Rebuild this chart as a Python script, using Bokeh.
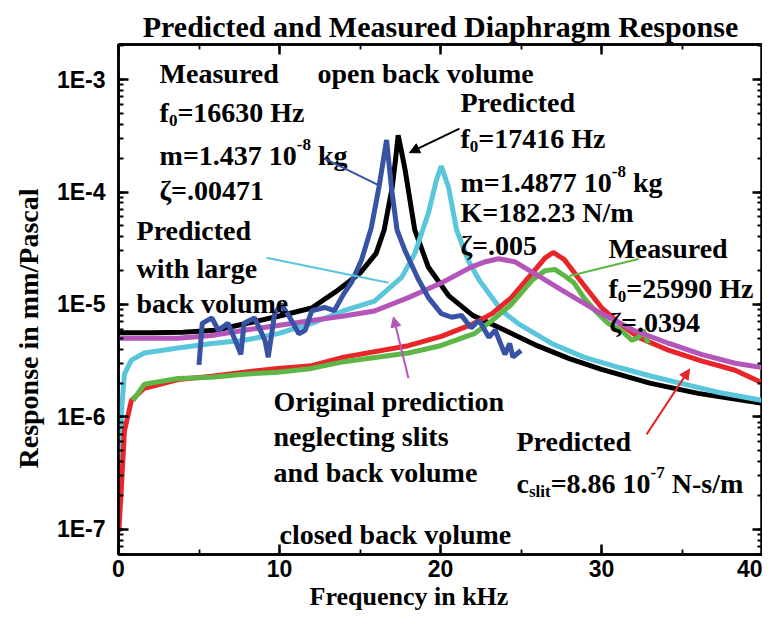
import math
from bokeh.plotting import figure
from bokeh.models import (Label, Arrow, NormalHead, Range1d, LogTicker, SingleIntervalTicker,
                          LinearAxis, LogAxis, CustomJSTickFormatter, Title)
from bokeh.embed import file_html
from bokeh.resources import INLINE

# ---------------- data (frequency in kHz, response in mm/Pascal) ----------------
black_f = [0, 2, 4, 6, 8, 10, 12, 13.5, 15, 16, 16.5, 17, 17.2, 17.37, 17.55, 17.8, 18.1, 18.4,
           19.25, 20.5, 22, 24, 26, 28, 30, 33, 36, 40]
black_r = [5.6e-6, 5.6e-6, 5.65e-6, 5.9e-6, 6.8e-6, 7.9e-6, 9.3e-6, 1.3e-5, 1.9e-5, 2.85e-5, 4.6e-5,
           1.1e-4, 1.9e-4, 3.2e-4, 2.4e-4, 1.58e-4, 8.5e-5, 4.6e-5, 2.14e-5, 1.2e-5, 8.0e-6, 5.9e-6,
           4.3e-6, 3.3e-6, 2.65e-6, 2.0e-6, 1.62e-6, 1.32e-6]

blue_f = [5.0, 5.2, 5.8, 6.2, 6.8, 7.45, 7.6, 7.8, 8.45, 9.1, 9.3, 9.7, 10.1, 10.5, 11.2, 11.6, 12.0,
          12.8, 13.4, 14.0, 14.5, 15.1, 15.7, 16.2, 16.65, 16.95, 17.3, 17.8, 18.6, 19.25, 20.05,
          20.7, 21.3, 21.9, 22.4, 23.0, 23.4, 24.0, 24.3, 24.5, 25.0]
blue_r = [2.9e-6, 6.8e-6, 7.6e-6, 5.9e-6, 6.8e-6, 4.1e-6, 3.6e-6, 6.8e-6, 7.6e-6, 4.8e-6, 3.4e-6,
          8.3e-6, 1.0e-5, 8.3e-6, 5.5e-6, 5.9e-6, 8.8e-6, 9.4e-6, 8.8e-6, 1.25e-5, 1.6e-5, 2.5e-5,
          4.8e-5, 1.15e-4, 2.9e-4, 1.1e-4, 4.6e-5, 3.0e-5, 1.7e-5, 1.15e-5, 8.3e-6, 7.7e-6, 8.0e-6,
          6.2e-6, 7.2e-6, 5.1e-6, 5.9e-6, 3.6e-6, 4.5e-6, 3.4e-6, 3.9e-6]

cyan_f = [0.08, 0.2, 0.37, 0.8, 1.6, 3.7, 5.8, 7.8, 9.9, 12, 14, 15.9, 17.6, 18.4, 19.25, 19.75,
          20.05, 20.5, 21.0, 21.7, 22.4, 23.8, 24.8, 26.9, 28.9, 31.1, 33.1, 35.2, 37.3, 40]
cyan_r = [4.0e-7, 1.2e-6, 2.4e-6, 3.2e-6, 3.7e-6, 4.1e-6, 4.5e-6, 4.8e-6, 5.5e-6, 6.8e-6, 8.8e-6,
          1.07e-5, 1.75e-5, 2.85e-5, 6.5e-5, 1.28e-4, 1.7e-4, 1.1e-4, 4.6e-5, 2.5e-5, 1.65e-5,
          8.8e-6, 6.8e-6, 4.5e-6, 3.4e-6, 2.75e-6, 2.3e-6, 1.95e-6, 1.65e-6, 1.4e-6]

magenta_f = [0, 3.7, 5.8, 7.8, 9.9, 12, 14, 15.9, 18, 20.05, 21.9, 22.8, 23.6, 24.6, 25.8, 27.9,
             30, 32, 34.2, 36.2, 38.3, 40]
magenta_r = [5.0e-6, 5.0e-6, 5.3e-6, 5.9e-6, 6.5e-6, 7.2e-6, 7.9e-6, 8.75e-6, 1.15e-5, 1.55e-5,
             2.15e-5, 2.4e-5, 2.55e-5, 2.4e-5, 1.9e-5, 1.25e-5, 8.3e-6, 5.9e-6, 4.5e-6, 3.6e-6,
             3.0e-6, 2.75e-6]

red_f = [0.02, 0.2, 0.37, 0.8, 1.6, 3.7, 5.8, 7.8, 9.9, 12, 14, 18, 20.05, 22.1, 23.2, 24.4, 25.7,
         26.5, 27.0, 27.7, 28.8, 30, 31.1, 32.3, 34.2, 36.2, 38.3, 40]
red_r = [9.5e-8, 2.7e-7, 7.5e-7, 1.4e-6, 1.8e-6, 2.15e-6, 2.3e-6, 2.5e-6, 2.7e-6, 2.85e-6, 3.4e-6,
         4.3e-6, 5.2e-6, 6.8e-6, 8.3e-6, 1.15e-5, 1.9e-5, 2.6e-5, 2.9e-5, 2.5e-5, 1.55e-5, 9.4e-6,
         6.8e-6, 5.1e-6, 3.9e-6, 3.15e-6, 2.6e-6, 2.0e-6]

green_f = [0.9, 1.6, 3.7, 5.8, 7.8, 9.9, 12, 14, 18, 20, 22.1, 23.2, 24.4, 25.7, 26.5, 27.1, 27.7,
           28.3, 28.9, 29.6, 30.4, 31.2, 31.9, 32.3, 32.6, 32.9]
green_r = [1.4e-6, 1.95e-6, 2.2e-6, 2.25e-6, 2.4e-6, 2.5e-6, 2.7e-6, 3.1e-6, 3.7e-6, 4.3e-6, 5.5e-6,
           7.2e-6, 1.0e-5, 1.65e-5, 2.0e-5, 2.05e-5, 1.8e-5, 1.55e-5, 1.15e-5, 8.8e-6, 6.8e-6,
           5.9e-6, 4.8e-6, 5.1e-6, 5.9e-6, 4.5e-6]

x_ticks_interval = 10

SERIF = "Liberation Serif"
SANS = "Liberation Sans"

# ---------------- figure ----------------
p = figure(frame_width=644, frame_height=510, y_axis_type="log",
           x_range=Range1d(0, 40), y_range=Range1d(5.98e-8, 2.05e-3),
           output_backend="svg", toolbar_location=None,
           min_border_left=117, min_border_right=0, min_border_top=44, min_border_bottom=60)
p.grid.visible = False
p.outline_line_color = "black"
p.outline_line_width = 2.5
p.background_fill_color = "white"
p.border_fill_color = "white"

p.title = Title(text="Predicted and Measured Diaphragm Response", align="center",
                text_font=SERIF, text_font_style="bold", text_font_size="30px",
                text_color="black", standoff=4)

bottom_ax = p.xaxis[0]
left_ax = p.yaxis[0]
bottom_ax.ticker = SingleIntervalTicker(interval=x_ticks_interval, num_minor_ticks=2)
left_ax.ticker = LogTicker(num_minor_ticks=10)
left_ax.formatter = CustomJSTickFormatter(code="return '1E' + Math.round(Math.log(tick)/Math.LN10);")


def style(ax, show_labels, standoff):
    ax.axis_line_width = 2.5
    ax.axis_line_color = "black"
    ax.major_tick_in = 10
    ax.major_tick_out = 0
    ax.minor_tick_in = 5
    ax.minor_tick_out = 0
    ax.major_tick_line_width = 2.5
    ax.minor_tick_line_width = 1.8
    ax.major_tick_line_color = "black"
    ax.minor_tick_line_color = "black"
    ax.major_label_standoff = standoff
    if show_labels:
        ax.major_label_text_font = SANS
        ax.major_label_text_font_style = "bold"
        ax.major_label_text_font_size = "23px"
        ax.major_label_text_color = "black"
    else:
        ax.major_label_text_font_size = "1px"
        ax.major_label_text_alpha = 0


style(bottom_ax, True, 5)
style(left_ax, True, 13)

top_ax = LinearAxis(ticker=SingleIntervalTicker(interval=x_ticks_interval, num_minor_ticks=2),
                    formatter=CustomJSTickFormatter(code="return '.';"))
right_ax = LogAxis(ticker=LogTicker(num_minor_ticks=10),
                   formatter=CustomJSTickFormatter(code="return '.';"))
style(top_ax, False, 0)
style(right_ax, False, 0)
p.add_layout(top_ax, "above")
p.add_layout(right_ax, "right")

p.add_layout(Title(text="Frequency in kHz", align="left", offset=191,
                   text_font=SERIF, text_font_style="bold", text_font_size="26px",
                   text_color="black", standoff=0), "below")
p.add_layout(Title(text="Response in mm/Pascal", align="left", offset=86,
                   text_font=SERIF, text_font_style="bold", text_font_size="28px",
                   text_color="black", standoff=20), "left")

# ---------------- curves ----------------
LW = 5
p.line(black_f, black_r, line_color="#000000", line_width=LW)
p.line(cyan_f, cyan_r, line_color="#5ac6dc", line_width=LW)
p.line(red_f, red_r, line_color="#e8262a", line_width=LW)
p.line(green_f, green_r, line_color="#5db645", line_width=LW)
p.line(magenta_f, magenta_r, line_color="#b455b9", line_width=LW)
p.line(blue_f, blue_r, line_color="#3953a4", line_width=LW)

# ---------------- text helpers ----------------
TB = {' ': 250, '.': 250, '-': 333, '/': 278, '=': 570, 'ζ': 440}
for d in "0123456789":
    TB[d] = 500
TB.update({'A': 722, 'B': 667, 'C': 722, 'D': 722, 'E': 667, 'F': 611, 'G': 778, 'H': 778,
           'I': 389, 'K': 778, 'L': 667, 'M': 944, 'N': 722, 'O': 778, 'P': 611, 'R': 722,
           'S': 556, 'T': 667,
           'a': 500, 'b': 556, 'c': 444, 'd': 556, 'e': 444, 'f': 333, 'g': 500, 'h': 556,
           'i': 278, 'j': 333, 'k': 556, 'l': 278, 'm': 833, 'n': 556, 'o': 500, 'p': 556,
           'q': 556, 'r': 444, 's': 389, 't': 333, 'u': 556, 'v': 500, 'w': 722, 'x': 500,
           'y': 500, 'z': 444})


def tw(s, size):
    return sum(TB.get(ch, 500) for ch in s) * size / 1000.0


FS = 28
SS = 17


def rich(x, y, parts):
    dx = 0.0
    for txt, kind in parts:
        fs = FS if kind == "n" else SS
        dy = {"n": 0, "sub": -8, "sup": 11}[kind]
        lead = len(txt) - len(txt.lstrip(" "))
        dx += tw(" " * lead, fs)
        body = txt.lstrip(" ")
        p.add_layout(Label(x=x, y=y, x_offset=dx, y_offset=dy, text=body,
                           text_font=SERIF, text_font_style="bold",
                           text_font_size=f"{fs}px", text_color="black",
                           text_baseline="alphabetic", text_align="left"))
        dx += tw(body, fs)


# left group
rich(2.55, 1.13e-3, [("Measured", "n")])
rich(12.36, 1.13e-3, [("open back volume", "n")])
rich(2.55, 5.08e-4, [("f", "n"), ("0", "sub"), ("=16630 Hz", "n")])
rich(2.55, 2.10e-4, [("m=1.437 10", "n"), ("-8", "sup"), (" kg", "n")])
rich(2.55, 1.03e-4, [("ζ=.00471", "n")])
rich(1.12, 4.52e-5, [("Predicted", "n")])
rich(1.12, 2.07e-5, [("with large", "n")])
rich(1.12, 1.01e-5, [("back volume", "n")])
# predicted (open) group
rich(21.24, 6.24e-4, [("Predicted", "n")])
rich(21.24, 2.98e-4, [("f", "n"), ("0", "sub"), ("=17416 Hz", "n")])
rich(21.24, 1.21e-4, [("m=1.4877 10", "n"), ("-8", "sup"), (" kg", "n")])
rich(21.24, 6.53e-5, [("K=182.23 N/m", "n")])
rich(21.24, 3.32e-5, [("ζ=.005", "n")])
# measured closed group
rich(30.43, 3.12e-5, [("Measured", "n")])
rich(30.43, 1.40e-5, [("f", "n"), ("0", "sub"), ("=25990 Hz", "n")])
rich(30.5, 6.98e-6, [("ζ=.0394", "n")])
# original prediction
rich(9.63, 1.38e-6, [("Original prediction", "n")])
rich(9.63, 6.74e-7, [("neglecting slits", "n")])
rich(9.63, 3.22e-7, [("and back volume", "n")])
rich(10.0, 9.02e-8, [("closed back volume", "n")])
# predicted closed
rich(24.72, 6.08e-7, [("Predicted", "n")])
rich(24.72, 2.57e-7, [("c", "n"), ("slit", "sub"), ("=8.86 10", "n"), ("-7", "sup"), (" N-s/m", "n")])


# pointer lines and arrows
def pointer(x0, y0, x1, y1, color, head):
    end = NormalHead(size=10, fill_color=color, line_color=color) if head else None
    p.add_layout(Arrow(end=end, x_start=x0, y_start=y0, x_end=x1, y_end=y1,
                       line_color=color, line_width=2))


pointer(12.80, 1.98e-4, 16.21, 1.14e-4, "#3953a4", False)
pointer(21.18, 3.66e-4, 18.07, 2.24e-4, "#000000", True)
pointer(9.19, 2.6e-5, 16.77, 1.56e-5, "#5ac6dc", False)
pointer(32.3, 2.54e-5, 28.01, 1.79e-5, "#5db645", False)
pointer(18.01, 2.21e-6, 17.08, 7.75e-6, "#b455b9", True)
pointer(32.8, 7.0e-7, 35.47, 2.66e-6, "#e8262a", True)

open("out.html", "w").write(file_html(p, INLINE))
